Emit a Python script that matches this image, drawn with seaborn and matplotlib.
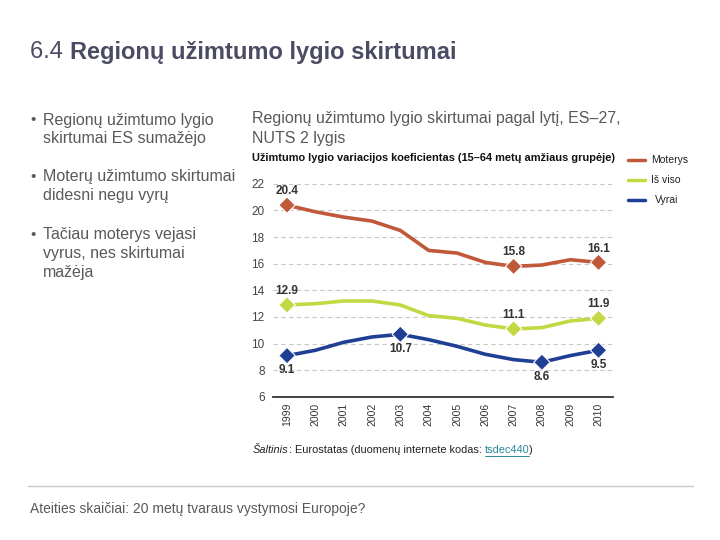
import pandas as pd
import numpy as np
import seaborn as sns
import matplotlib.pyplot as plt

# duomenys (nuskaityta nuo grafiko)
years = list(range(1999, 2011))
moterys = [20.4, 19.9, 19.5, 19.2, 18.5, 17.0, 16.8, 16.1, 15.8, 15.9, 16.3, 16.1]
is_viso = [12.9, 13.0, 13.2, 13.2, 12.9, 12.1, 11.9, 11.4, 11.1, 11.2, 11.7, 11.9]
vyrai = [9.1, 9.5, 10.1, 10.5, 10.7, 10.3, 9.8, 9.2, 8.8, 8.6, 9.1, 9.5]

series_names = ["Moterys", "Iš viso", "Vyrai"]
colors = ["#c0583a", "#c3d843", "#1f3f94"]

# pažymėti metai (rombai su reikšmėmis)
marked = {
    "Moterys": [(1999, "above"), (2007, "above"), (2010, "above")],
    "Iš viso": [(1999, "above"), (2007, "above"), (2010, "above")],
    "Vyrai": [(1999, "below"), (2003, "below"), (2008, "below"), (2010, "below")],
}

df = pd.DataFrame({
    "metai": years * 3,
    "reiksme": moterys + is_viso + vyrai,
    "serija": [n for n in series_names for _ in years],
})

sns.set_style("white")
plt.rcParams["font.family"] = ["Liberation Sans", "DejaVu Sans"]

fig = plt.figure(figsize=(7.2, 5.4), dpi=100)
ax = fig.add_axes([0.379, 0.265, 0.472, 0.402])

sns.lineplot(data=df, x="metai", y="reiksme", hue="serija", hue_order=series_names,
             palette=colors, linewidth=2.6, legend=False, ax=ax)

mk = []
for name in series_names:
    for yr, pos in marked[name]:
        val = df[(df.serija == name) & (df.metai == yr)].reiksme.iloc[0]
        mk.append((name, yr, val, pos))
mk_df = pd.DataFrame(mk, columns=["serija", "metai", "reiksme", "pos"])
sns.scatterplot(data=mk_df, x="metai", y="reiksme", hue="serija", hue_order=series_names,
                palette=colors, marker="D", s=70, edgecolor="white", linewidth=0.8,
                legend=False, ax=ax, zorder=5)

for _, r in mk_df.iterrows():
    dy = 10 if r.pos == "above" else -10.5
    ax.annotate(f"{r.reiksme:.1f}", (r.metai, r.reiksme), xytext=(0, dy),
                textcoords="offset points", ha="center", va="center",
                fontsize=8.5, fontweight="bold", color="#333333")

ax.set_xlim(1998.5, 2010.5)
ax.set_ylim(6, 22.3)
ax.set_yticks(range(6, 23, 2))
ax.set_xticks(years)
ax.set_xticklabels([str(y) for y in years], rotation=90, fontsize=7.5, color="#333333")
ax.set_xticks(np.arange(1998.5, 2011, 1), minor=True)
ax.tick_params(axis="x", which="major", length=0, pad=4)
ax.tick_params(axis="x", which="minor", length=5, width=1.2, color="#333333", direction="out")
ax.tick_params(axis="y", length=0, labelsize=8.5, labelcolor="#444444", pad=6)
for yv in range(8, 23, 2):
    ax.axhline(yv, color="#c8c8c8", linestyle=(0, (4, 3)), linewidth=0.8, zorder=0)
ax.set_xlabel("")
ax.set_ylabel("")
for s in ["top", "right", "left"]:
    ax.spines[s].set_visible(False)
ax.spines["bottom"].set_color("#333333")
ax.spines["bottom"].set_linewidth(1.3)

# legenda
for i, (name, c) in enumerate(zip(series_names, colors)):
    y = 1 - (160 + 20 * i) / 540
    fig.add_artist(plt.Line2D([628 / 720, 645 / 720], [y, y], color=c, linewidth=2.5))
    fig.text(651 / 720 if i < 2 else 655 / 720, y, name, fontsize=7.5, color="#222222", va="center")

# pavadinimai ir tekstai
title_col = "#4b4b63"
t1 = fig.text(30 / 720, 1 - 52 / 540, "6.4 ", fontsize=17, color=title_col, va="center")
fig.canvas.draw()
rend = fig.canvas.get_renderer()
bb = t1.get_window_extent(rend)
fig.text(bb.x1 / 720, 1 - 52 / 540, "Regionų užimtumo lygio skirtumai", fontsize=17,
         fontweight="bold", color=title_col, va="center")

grey = "#595959"
bullets = [
    (120, ["Regionų užimtumo lygio", "skirtumai ES sumažėjo"]),
    (177, ["Moterų užimtumo skirtumai", "didesni negu vyrų"]),
    (235, ["Tačiau moterys vejasi", "vyrus, nes skirtumai", "mažėja"]),
]
for y0, lines in bullets:
    fig.text(30 / 720, 1 - y0 / 540, "•", fontsize=11, color=grey, va="center")
    for j, ln in enumerate(lines):
        fig.text(43 / 720, 1 - (y0 + 18.5 * j) / 540, ln, fontsize=11.5, color=grey, va="center")

fig.text(252 / 720, 1 - 119 / 540, "Regionų užimtumo lygio skirtumai pagal lytį, ES–27,",
         fontsize=11.5, color=grey, va="center")
fig.text(252 / 720, 1 - 139 / 540, "NUTS 2 lygis", fontsize=11.5, color=grey, va="center")
fig.text(252 / 720, 1 - 158 / 540, "Užimtumo lygio variacijos koeficientas (15–64 metų amžiaus grupėje)",
         fontsize=7.9, fontweight="bold", color="#111111", va="center")

# šaltinis
ys = 1 - 450 / 540
fs = 7.9
s1 = fig.text(253 / 720, ys, "Šaltinis", fontsize=fs, style="italic", color="#222222", va="center")
fig.canvas.draw()
x = s1.get_window_extent(rend).x1
s2 = fig.text(x / 720, ys, ": Eurostatas (duomenų internete kodas: ", fontsize=fs, color="#222222", va="center")
fig.canvas.draw()
x = s2.get_window_extent(rend).x1
s3 = fig.text(x / 720, ys, "tsdec440", fontsize=fs, color="#2a8a96", va="center")
fig.canvas.draw()
b3 = s3.get_window_extent(rend)
fig.add_artist(plt.Line2D([b3.x0 / 720, b3.x1 / 720], [(b3.y0 - 1) / 540] * 2, color="#2a8a96", linewidth=0.7))
fig.text(b3.x1 / 720, ys, ")", fontsize=fs, color="#222222", va="center")

fig.add_artist(plt.Line2D([28 / 720, 693 / 720], [1 - 486 / 540] * 2, color="#c8c8c8", linewidth=1))
fig.text(30 / 720, 1 - 509 / 540, "Ateities skaičiai: 20 metų tvaraus vystymosi Europoje?",
         fontsize=10, color=grey, va="center")

fig.savefig("out.png", dpi=100)
